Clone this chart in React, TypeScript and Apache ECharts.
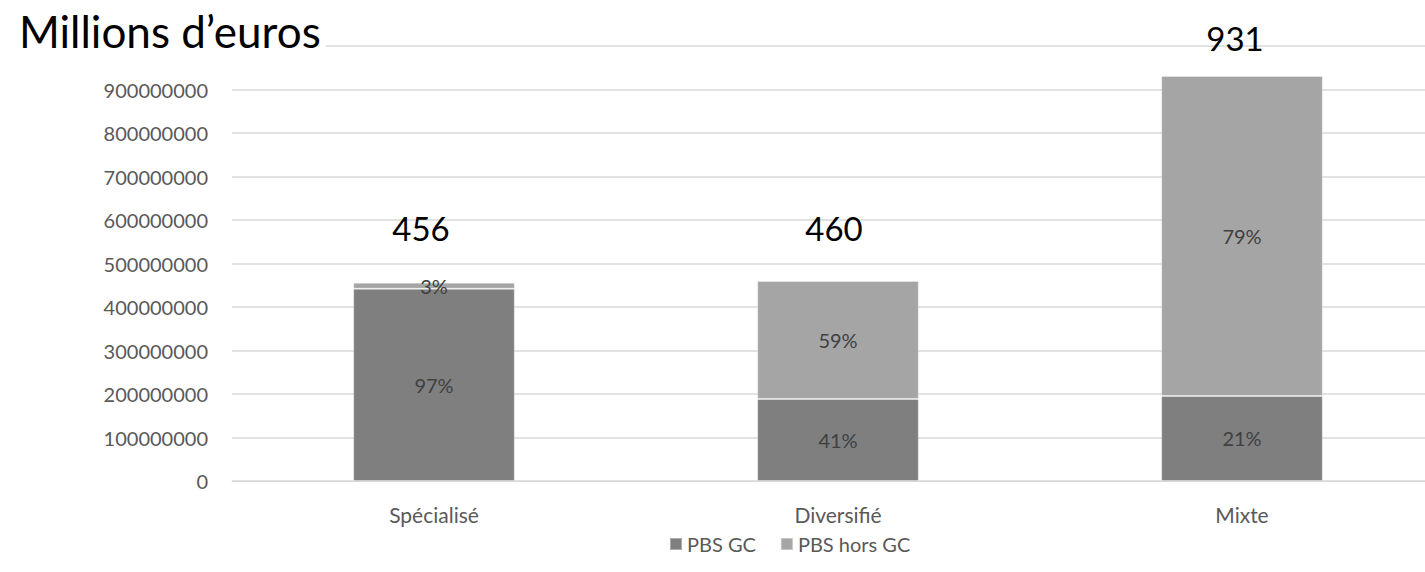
import React, { useEffect, useRef } from "react";
import * as echarts from "echarts";

const categories = ["Spécialisé", "Diversifié", "Mixte"];
const totals = [456, 460, 931];
const shareGC = [97, 41, 21];
const shareHorsGC = [3, 59, 79];
const pbsGC = [442000000, 188600000, 195500000];
const pbsHorsGC = [14000000, 271400000, 735500000];
const totalLabelOffsets = [
  [-13, -33],
  [-4, -31],
  [-7, -17],
];

const FONT = "Lato";

export default function App() {
  const ref = useRef<HTMLDivElement>(null);
  useEffect(() => {
    document.body.style.margin = "0";
    const chart = echarts.init(ref.current!, null, { renderer: "svg" });
    chart.setOption({
      animation: false,
      textStyle: { fontFamily: FONT },
      title: {
        text: "Millions d’euros",
        left: 14,
        top: 4,
        textStyle: { fontFamily: FONT, fontSize: 44, fontWeight: "normal", color: "#000" },
        backgroundColor: "#fff",
      },
      legend: {
        left: 664,
        top: 529,
        itemWidth: 12,
        itemHeight: 12,
        itemGap: 24,
        icon: "rect",
        textStyle: { fontFamily: FONT, fontSize: 20, color: "#595959" },
        data: ["PBS GC", "PBS hors GC"],
      },
      grid: { left: 232, right: 6, top: 46, bottom: 91, containLabel: false },
      xAxis: {
        type: "category",
        data: categories,
        axisTick: { show: false },
        axisLine: { lineStyle: { color: "#d9d9d9", width: 1 } },
        axisLabel: { color: "#595959", fontSize: 21, fontFamily: FONT, margin: 23 },
      },
      yAxis: {
        type: "value",
        min: 0,
        max: 1000000000,
        interval: 100000000,
        axisLine: { show: false },
        axisTick: { show: false },
        splitLine: { lineStyle: { color: "#d9d9d9", width: 1.5 } },
        axisLabel: {
          color: "#595959",
          fontSize: 20,
          fontFamily: FONT,
          margin: 24,
          showMaxLabel: false,
          formatter: (v: number) => String(v),
        },
      },
      series: [
        {
          name: "PBS GC",
          type: "bar",
          stack: "total",
          barWidth: "40%",
          itemStyle: { color: "#7f7f7f", borderColor: "rgba(255,255,255,0.35)", borderWidth: 1 },
          data: pbsGC,
          label: {
            show: true,
            position: "inside",
            color: "#404040",
            fontSize: 20,
            fontFamily: FONT,
            formatter: (p: any) => shareGC[p.dataIndex] + "%",
          },
        },
        {
          name: "PBS hors GC",
          type: "bar",
          stack: "total",
          barWidth: "40%",
          itemStyle: { color: "#a5a5a5", borderColor: "rgba(255,255,255,0.35)", borderWidth: 1 },
          data: pbsHorsGC,
          label: {
            show: true,
            position: "inside",
            color: "#404040",
            fontSize: 20,
            fontFamily: FONT,
            formatter: (p: any) => shareHorsGC[p.dataIndex] + "%",
          },
        },
        {
          name: "Total",
          type: "bar",
          stack: "total",
          barWidth: "40%",
          itemStyle: { color: "transparent" },
          data: pbsGC.map((_, i) => ({
            value: 0,
            label: { offset: totalLabelOffsets[i] },
          })),
          label: {
            show: true,
            position: "top",
            color: "#000",
            fontSize: 33,
            lineHeight: 33,
            fontFamily: FONT,
            formatter: (p: any) => String(totals[p.dataIndex]),
          },
        },
      ],
    });
    return () => chart.dispose();
  }, []);
  return (
    <div style={{ width: 1425, height: 572, overflow: "hidden" }}>
      <div ref={ref} style={{ width: 1450, height: 572 }} />
    </div>
  );
}
